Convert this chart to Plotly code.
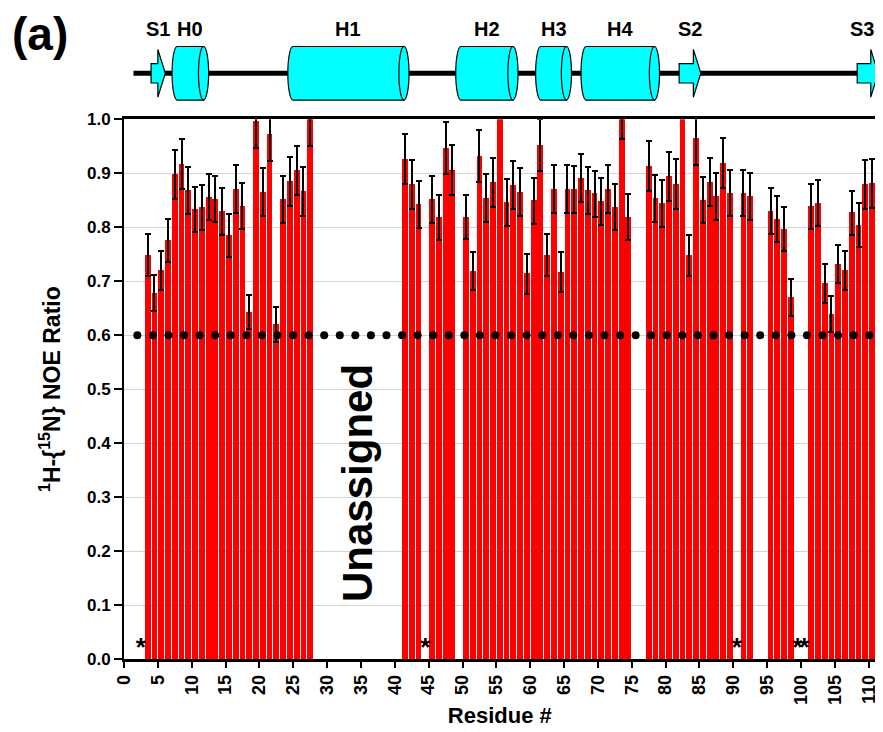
import numpy as np
import plotly.graph_objects as go

# ---------------- data ----------------
residues = (list(range(3, 28)) + [41, 42, 43] + [45, 46, 47, 48] + list(range(50, 75))
            + list(range(77, 90)) + [91, 92] + [95, 96, 97, 98] + list(range(101, 111)))

noe = [
    # 3-27
    0.748, 0.678, 0.720, 0.775, 0.898, 0.917, 0.868, 0.833, 0.837, 0.856, 0.852, 0.829, 0.785,
    0.871, 0.839, 0.643, 0.996, 0.865, 0.972, 0.620, 0.851, 0.885, 0.905, 0.866, 1.000,
    # 41-43
    0.926, 0.879, 0.842,
    # 45-48
    0.851, 0.818, 0.947, 0.906,
    # 50-74
    0.819, 0.719, 0.932, 0.854, 0.883, 1.060, 0.846, 0.878, 0.865, 0.714, 0.849, 0.952, 0.748,
    0.871, 0.717, 0.871, 0.870, 0.891, 0.868, 0.862, 0.848, 0.871, 0.837, 1.000, 0.819,
    # 77-89
    0.913, 0.853, 0.844, 0.894, 0.880, 1.060, 0.748, 0.964, 0.850, 0.884, 0.857, 0.919, 0.863,
    # 91-92
    0.863, 0.857,
    # 95-98
    0.830, 0.815, 0.797, 0.670,
    # 101-110
    0.839, 0.845, 0.696, 0.639, 0.732, 0.720, 0.827, 0.804, 0.879, 0.881,
]

noe_err = [
    0.039, 0.034, 0.036, 0.040, 0.046, 0.046, 0.043, 0.042, 0.042, 0.043, 0.043, 0.043, 0.040,
    0.044, 0.043, 0.032, 0.050, 0.044, 0.049, 0.032, 0.044, 0.045, 0.046, 0.045, 0.050,
    0.046, 0.045, 0.043,
    0.044, 0.042, 0.048, 0.046,
    0.041, 0.036, 0.048, 0.044, 0.045, 0.050, 0.043, 0.045, 0.045, 0.037, 0.043, 0.048, 0.039,
    0.044, 0.037, 0.044, 0.044, 0.045, 0.044, 0.043, 0.043, 0.044, 0.043, 0.036, 0.042,
    0.046, 0.043, 0.043, 0.046, 0.046, 0.050, 0.038, 0.049, 0.043, 0.045, 0.044, 0.046, 0.043,
    0.043, 0.043,
    0.043, 0.042, 0.041, 0.034,
    0.042, 0.043, 0.036, 0.033, 0.036, 0.036, 0.041, 0.041, 0.045, 0.045,
]

star_residues = [2, 44, 90, 99, 100]
threshold = 0.6

x_ticks = list(range(0, 111, 5))
y_ticks = [0.0, 0.1, 0.2, 0.3, 0.4, 0.5, 0.6, 0.7, 0.8, 0.9, 1.0]

# secondary structure (residue units)
ss_labels = ["S1", "H0", "H1", "H2", "H3", "H4", "S2", "S3"]
ss_types = ["strand", "helix", "helix", "helix", "helix", "helix", "strand", "strand"]
ss_start = [4.0, 7.1, 24.2, 49.0, 60.8, 67.5, 82.0, 108.3]
ss_end = [6.1, 12.5, 42.1, 58.2, 66.1, 79.1, 85.2, 111.4]
chain_start, chain_end = 1.4, 111.0

# ---------------- figure ----------------
FONT = "Liberation Sans, Arial, Helvetica, sans-serif"
PAGE = 8                      # default body margin of the html page
W, H = 883 - PAGE, 732 - PAGE
ML, MR, MT, MB = 124 - PAGE, 2, 10 - PAGE, 73
plot_w = W - ML - MR
plot_h = H - MT - MB
x_max = 111.0
x_dom_right = 751.5 / plot_w
bottom_px = 659               # y pixel of value 0 in the page

fig = go.Figure()

fig.add_trace(go.Bar(
    x=residues, y=noe, width=0.86, offset=0.07,
    marker=dict(color="#ff0000", line=dict(width=0)),
    error_y=dict(type="data", array=noe_err, visible=True, color="black",
                 thickness=2, width=3),
    xaxis="x", yaxis="y", showlegend=False, hoverinfo="skip",
))

# dotted threshold line drawn as dots
dot_x = np.arange(1.97, 110.1, 2.3)
fig.add_trace(go.Scatter(
    x=dot_x, y=[threshold] * len(dot_x), mode="markers",
    marker=dict(color="black", size=8), showlegend=False, hoverinfo="skip",
    cliponaxis=False,
))

# asterisks
fig.add_trace(go.Scatter(
    x=[r + 0.5 for r in star_residues], y=[0.018] * len(star_residues), mode="text",
    text=["*"] * len(star_residues),
    textfont=dict(family=FONT, size=26, color="black", weight="bold"),
    showlegend=False, hoverinfo="skip", cliponaxis=False,
))

# dummy trace for the secondary-structure subplot
fig.add_trace(go.Scatter(x=[0], y=[0], xaxis="x2", yaxis="y2", mode="markers",
                         marker=dict(opacity=0), showlegend=False, hoverinfo="skip"))

shapes = []
yc = 0.35
shapes.append(dict(type="line", xref="x2", yref="y2", x0=chain_start, x1=chain_end,
                   y0=yc, y1=yc, line=dict(color="black", width=5), layer="above"))
cyan = "#00ffff"
hel_lo, hel_hi = yc - 0.275, yc + 0.275
ew = 1.5
for lab, typ, s, e in zip(ss_labels, ss_types, ss_start, ss_end):
    if typ == "helix":
        shapes.append(dict(type="circle", xref="x2", yref="y2", x0=s, x1=s + ew,
                           y0=hel_lo, y1=hel_hi, fillcolor=cyan,
                           line=dict(color="black", width=1.2), layer="above"))
        xa, xb = s + ew / 2, e - ew / 2
        path = f"M {xa},{hel_hi} L {xb},{hel_hi} L {xb},{hel_lo} L {xa},{hel_lo}"
        shapes.append(dict(type="path", xref="x2", yref="y2", path=path, fillcolor=cyan,
                           line=dict(color="black", width=1.2), layer="above"))
        shapes.append(dict(type="circle", xref="x2", yref="y2", x0=e - ew, x1=e,
                           y0=hel_lo, y1=hel_hi, fillcolor=cyan,
                           line=dict(color="black", width=1.2), layer="above"))
    else:
        head = 1.1
        xh = e - head
        b0, b1 = yc - 0.1, yc + 0.1
        h0, h1 = yc - 0.245, yc + 0.245
        path = (f"M {s},{b0} L {xh},{b0} L {xh},{h0} L {e},{yc} L {xh},{h1} "
                f"L {xh},{b1} L {s},{b1} Z")
        shapes.append(dict(type="path", xref="x2", yref="y2", path=path, fillcolor=cyan,
                           line=dict(color="black", width=1.2), layer="above"))

annotations = []
for lab, s, e in zip(ss_labels, ss_start, ss_end):
    xm = min((s + e) / 2, 109.0)
    annotations.append(dict(text=lab, xref="x2", yref="y2", x=xm, y=0.80,
                            showarrow=False, xanchor="center", yanchor="middle",
                            font=dict(family=FONT, size=20, color="black", weight="bold")))

annotations.append(dict(text="(a)", xref="paper", yref="paper", x=(40 - 124) / plot_w,
                        y=(bottom_px - 34) / plot_h, showarrow=False,
                        xanchor="center", yanchor="middle",
                        font=dict(family=FONT, size=46, color="black", weight="bold")))

annotations.append(dict(text="Unassigned", xref="x", yref="y", x=34.4, y=0.326,
                        showarrow=False, textangle=-90, xanchor="center", yanchor="middle",
                        font=dict(family=FONT, size=42, color="black", weight="bold")))

main_top = 539.7 / plot_h

fig.update_layout(
    width=W, height=H,
    margin=dict(l=ML, r=MR, t=MT, b=MB, autoexpand=False),
    paper_bgcolor="white", plot_bgcolor="white",
    showlegend=False,
    bargap=0,
    font=dict(family=FONT, color="black"),
    xaxis=dict(domain=[0, x_dom_right], range=[0, x_max], tickmode="array",
               tickvals=x_ticks, ticktext=[str(t) for t in x_ticks], tickangle=-90,
               ticks="outside", ticklen=6, tickwidth=2, tickcolor="black",
               showline=True, linewidth=2.5, linecolor="black", mirror=True,
               showgrid=False, zeroline=False, anchor="y",
               tickfont=dict(family=FONT, size=18, color="black", weight="bold"),
               title=dict(text="Residue #", standoff=4,
                          font=dict(family=FONT, size=22, color="black", weight="bold"))),
    yaxis=dict(domain=[0, main_top], range=[0, 1.0], tickmode="array",
               tickvals=y_ticks, ticktext=[f"{t:.1f}" for t in y_ticks],
               ticks="outside", ticklen=8, tickwidth=2, tickcolor="black",
               showline=True, linewidth=2, linecolor="black", mirror=True,
               showgrid=True, gridcolor="#d4d4d4", gridwidth=1, zeroline=False,
               anchor="x",
               tickfont=dict(family=FONT, size=17, color="black", weight="bold"),
               title=dict(text="<sup>1</sup>H-{<sup>15</sup>N} NOE Ratio", standoff=20,
                          font=dict(family=FONT, size=23, color="black", weight="bold"))),
    xaxis2=dict(domain=[0, 1], range=[0, x_max * plot_w / 751.5], anchor="y2",
                visible=False, fixedrange=True),
    yaxis2=dict(domain=[0.85, 1.0], range=[0, 1], anchor="x2", visible=False,
                fixedrange=True),
    shapes=shapes,
    annotations=annotations,
)

fig.write_html("out.html")
